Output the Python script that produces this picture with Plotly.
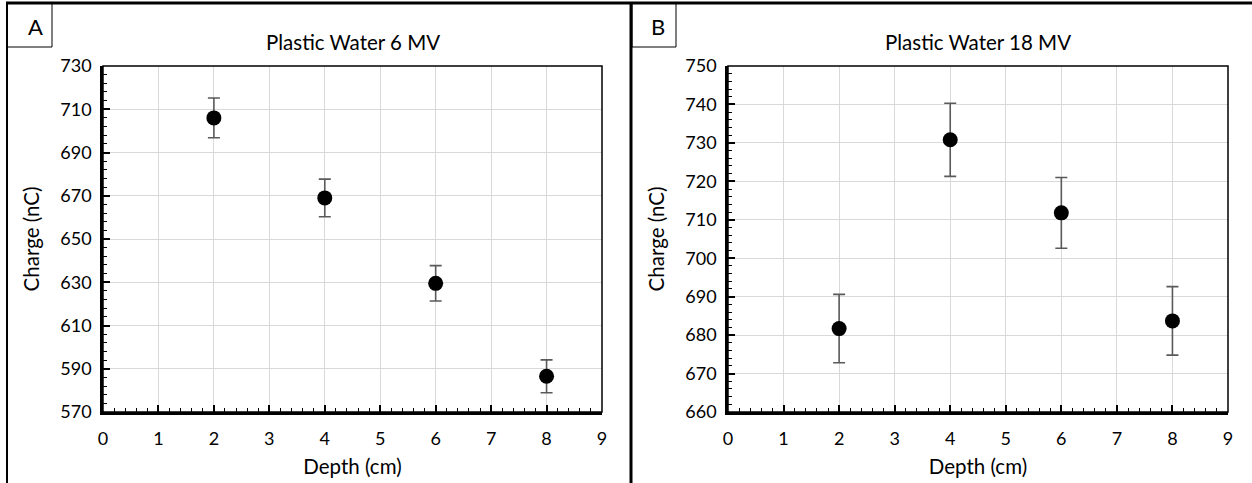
import plotly.graph_objects as go

depth = [2, 4, 6, 8]
charge_6mv = [706.0, 669.0, 629.5, 586.5]
err_6mv = [9.2, 8.7, 8.2, 7.6]
charge_18mv = [681.7, 730.8, 711.8, 683.7]
err_18mv = [8.9, 9.5, 9.2, 8.9]

titles = ["Plastic Water 6 MV", "Plastic Water 18 MV"]
panel_labels = ["A", "B"]
y_ranges = [[570, 730], [660, 750]]
y_dticks = [20, 10]
y_minor = [4, 2]

FONT = "Lato"
W, H = 1252, 483

def px(x):
    return x / W

def py(y):
    return 1 - y / H

fig = go.Figure()

xdoms = [[px(103), px(602)], [px(728), px(1228)]]
ydom = [py(412), py(66)]

for i, (yv, ev) in enumerate([(charge_6mv, err_6mv), (charge_18mv, err_18mv)]):
    sfx = "" if i == 0 else "2"
    fig.add_trace(go.Scatter(
        x=depth, y=yv, mode="markers",
        marker=dict(color="black", size=15),
        error_y=dict(type="data", array=ev, visible=True, color="#5a5a5a",
                     thickness=1.6, width=6),
        xaxis="x" + sfx, yaxis="y" + sfx, showlegend=False,
    ))

axis_common = dict(
    showline=True, linecolor="black", linewidth=2.5, mirror=False,
    ticks="inside", ticklen=7, tickwidth=1.5, tickcolor="black",
    showgrid=True, gridcolor="#d9d9d9", gridwidth=1.4,
    zeroline=False, tickfont=dict(family=FONT, size=18, color="black"),
    automargin=False,
)

layout = dict(
    width=W, height=H,
    margin=dict(l=0, r=0, t=0, b=0, pad=0, autoexpand=False),
    paper_bgcolor="white", plot_bgcolor="white",
    font=dict(family=FONT, color="black"),
)
for i in range(2):
    sfx = "" if i == 0 else "2"
    layout["xaxis" + sfx] = dict(
        axis_common, domain=xdoms[i], range=[0, 9], dtick=1, tick0=0,
        anchor="y" + sfx,
        title=dict(text="Depth (cm)", standoff=12,
                   font=dict(family=FONT, size=20.5, color="black")),
        minor=dict(dtick=0.2, tick0=0, ticks="inside", ticklen=4, tickwidth=1.2,
                   tickcolor="black", showgrid=False),
        ticklabelstandoff=9,
    )
    layout["yaxis" + sfx] = dict(
        axis_common, domain=ydom, range=y_ranges[i], dtick=y_dticks[i],
        tick0=y_ranges[i][0], anchor="x" + sfx,
        title=dict(text="Charge (nC)", standoff=16,
                   font=dict(family=FONT, size=20.5, color="black")),
        minor=dict(dtick=y_minor[i], tick0=y_ranges[i][0], ticks="inside",
                   ticklen=4, tickwidth=1.2, tickcolor="black", showgrid=False),
        ticklabelstandoff=5,
    )
fig.update_layout(**layout)

shapes = []
for i in range(2):
    shapes.append(dict(type="rect", xref="paper", yref="paper",
                       x0=xdoms[i][0], x1=xdoms[i][1], y0=ydom[0], y1=ydom[1],
                       line=dict(color="black", width=1.5), layer="above"))
shapes.append(dict(type="line", xref="paper", yref="paper",
                   x0=px(6), x1=1, y0=py(3), y1=py(3),
                   line=dict(color="black", width=3)))
shapes.append(dict(type="line", xref="paper", yref="paper",
                   x0=px(7), x1=px(7), y0=0, y1=py(3),
                   line=dict(color="black", width=2)))
shapes.append(dict(type="line", xref="paper", yref="paper",
                   x0=px(631), x1=px(631), y0=0, y1=py(3),
                   line=dict(color="black", width=3)))
label_boxes = [(7, 52), (632, 676)]
label_x = [35.5, 658]
for (x0, x1) in label_boxes:
    shapes.append(dict(type="rect", xref="paper", yref="paper",
                       x0=px(x0), x1=px(x1), y0=py(47), y1=py(3),
                       line=dict(color="black", width=1)))
fig.update_layout(shapes=shapes)

annotations = []
for i in range(2):
    annotations.append(dict(text=panel_labels[i], xref="paper", yref="paper",
                            x=px(label_x[i]), y=py(27), showarrow=False,
                            xanchor="center", yanchor="middle",
                            font=dict(family=FONT, size=22, color="black")))
    annotations.append(dict(text=titles[i], xref="paper", yref="paper",
                            x=(xdoms[i][0] + xdoms[i][1]) / 2, y=py(42),
                            showarrow=False, xanchor="center", yanchor="middle",
                            font=dict(family=FONT, size=20.5, color="black")))
fig.update_layout(annotations=annotations)

fig.write_html("out.html")
